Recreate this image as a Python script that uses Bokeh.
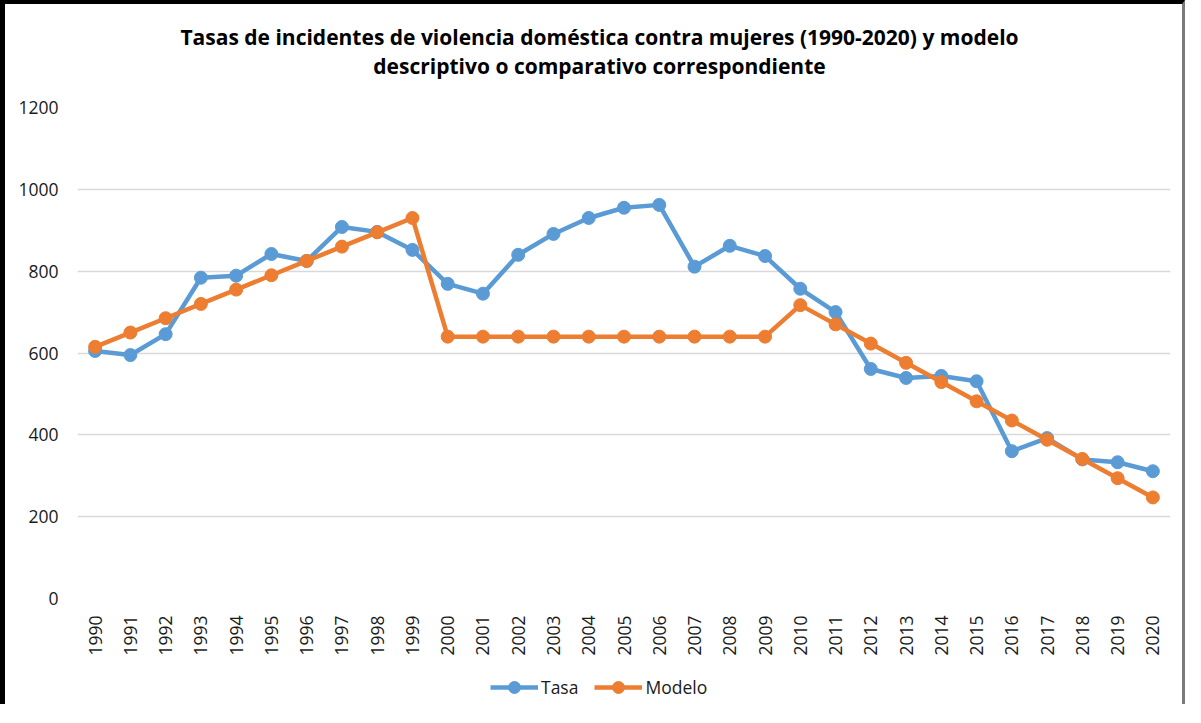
from bokeh.plotting import figure
from bokeh.models import FixedTicker, Range1d, Legend, LegendItem, Label
from bokeh.layouts import column
from bokeh.embed import file_html
from bokeh.resources import INLINE
import math

years = list(range(1990, 2021))
tasa = [605, 595, 646, 784, 789, 842, 825, 908, 896, 852,
        769, 745, 840, 891, 930, 955, 962, 811, 862, 837,
        757, 700, 561, 539, 544, 531, 360, 392, 340, 333, 311]
modelo = [615, 650, 685, 720, 755, 790, 825, 860, 895, 930,
          640, 640, 640, 640, 640, 640, 640, 640, 640, 640,
          717, 670, 623, 576, 529, 482, 435, 388, 341, 294, 247]
y_ticks = [0, 200, 400, 600, 800, 1000, 1200]
series_names = ["Tasa", "Modelo"]

title_line1 = "Tasas de incidentes de violencia doméstica contra mujeres (1990-2020) y modelo"
title_line2 = "descriptivo o comparativo correspondiente"

BLUE = "#5B9BD5"
ORANGE = "#ED7D31"
FONT = "Open Sans"
W = 1177
ML, MR = 72, 12
TH = 83

# ---- title strip (pixel-mapped ranges) ----
r = figure(width=W, height=TH, output_backend="svg", toolbar_location=None,
           x_axis_type=None, y_axis_type=None,
           x_range=Range1d(ML, W - MR), y_range=Range1d(0, TH),
           min_border_left=ML, min_border_right=MR, min_border_top=0, min_border_bottom=0)
r.outline_line_color = None
r.background_fill_color = "white"
r.border_fill_color = "white"
for txt, yy in ((title_line1, TH - 32), (title_line2, TH - 61)):
    r.add_layout(Label(x=594, y=yy, text=txt, text_align="center", text_baseline="middle",
                       text_font=FONT, text_font_size="21px", text_font_style="bold",
                       text_color="black"))

# ---- main chart ----
p = figure(width=W, height=573, output_backend="svg", toolbar_location=None,
           x_range=Range1d(1989.5, 2020.5), y_range=Range1d(0, 1200),
           min_border_left=ML, min_border_right=MR, min_border_top=20, min_border_bottom=62)
p.outline_line_color = None
p.background_fill_color = "white"
p.border_fill_color = "white"

p.xgrid.grid_line_color = None
p.ygrid.grid_line_color = "#d9d9d9"
p.ygrid.grid_line_width = 1.5

p.yaxis.ticker = FixedTicker(ticks=y_ticks)
p.yaxis.axis_line_color = None
p.yaxis.major_tick_line_color = None
p.yaxis.minor_tick_line_color = None
p.yaxis.major_tick_out = 0
p.yaxis.major_tick_in = 0
p.yaxis.major_label_standoff = 19
p.yaxis.major_label_text_font = FONT
p.yaxis.major_label_text_font_size = "17.5px"
p.yaxis.major_label_text_color = "#1a1a1a"

p.xaxis.ticker = FixedTicker(ticks=years)
p.xaxis.axis_line_color = None
p.xaxis.major_tick_line_color = None
p.xaxis.minor_tick_line_color = None
p.xaxis.major_label_orientation = math.pi / 2
p.xaxis.major_label_standoff = 11
p.xaxis.major_label_text_font = FONT
p.xaxis.major_label_text_font_size = "17.5px"
p.xaxis.major_label_text_color = "#1a1a1a"

p.line(years, tasa, line_color=BLUE, line_width=4.5)
p.scatter(years, tasa, size=13, fill_color=BLUE, line_color=BLUE)
p.line(years, modelo, line_color=ORANGE, line_width=4.5)
p.scatter(years, modelo, size=13, fill_color=ORANGE, line_color=ORANGE)

# ---- legend strip ----
q = figure(width=W, height=44, output_backend="svg", toolbar_location=None,
           x_axis_type=None, y_axis_type=None,
           x_range=Range1d(0, 1), y_range=Range1d(0, 1),
           min_border_left=ML, min_border_right=MR, min_border_top=0, min_border_bottom=0)
q.outline_line_color = None
q.background_fill_color = "white"
q.border_fill_color = "white"
off = [-5, -4]  # proxy glyphs kept outside the visible range; only their legend swatches show
ql1 = q.line(off, off, line_color=BLUE, line_width=4.5)
qs1 = q.scatter(off, off, size=13, fill_color=BLUE, line_color=BLUE)
ql2 = q.line(off, off, line_color=ORANGE, line_width=4.5)
qs2 = q.scatter(off, off, size=13, fill_color=ORANGE, line_color=ORANGE)

legend = Legend(items=[LegendItem(label=series_names[0], renderers=[ql1, qs1]),
                       LegendItem(label=series_names[1], renderers=[ql2, qs2])],
                orientation="horizontal", location=(413, 2),
                border_line_color=None, background_fill_alpha=0,
                label_text_font=FONT, label_text_font_size="17.5px",
                label_text_color="#1a1a1a",
                glyph_width=48, glyph_height=30, spacing=16, label_standoff=3,
                margin=0, padding=0)
q.add_layout(legend, "center")

layout = column(r, p, q, spacing=0,
                styles={"border-left": "5px solid black", "border-top": "4px solid black",
                        "border-right": "3px solid #7a7a7a", "background-color": "white"})

open("out.html", "w").write(file_html(layout, INLINE))
